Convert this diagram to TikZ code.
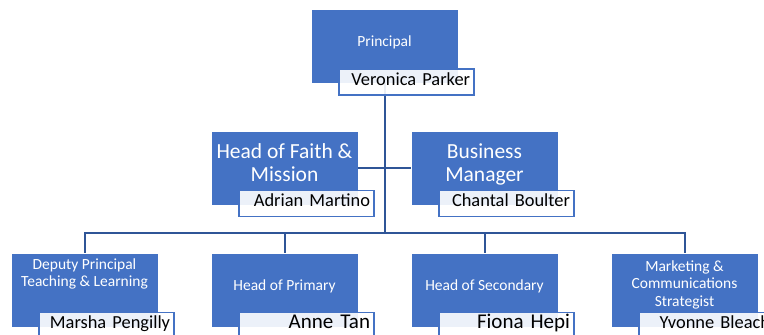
\documentclass[tikz,border=0pt]{standalone}
\usepackage{fontspec}
\setmainfont{Carlito}
\usetikzlibrary{positioning}
\usetikzlibrary{backgrounds}
\usepackage{xcolor}
\definecolor{boxblue}{HTML}{4472C4}
\definecolor{linkblue}{HTML}{2F5597}

\tikzset{
  post/.style={fill=boxblue, minimum width=146pt, minimum height=73pt, inner sep=0pt},
  holder/.style={draw=boxblue, line width=1.3pt, fill=white, fill opacity=0.9, text opacity=1,
    text width=127pt, inner xsep=4pt, inner ysep=0pt, minimum height=26pt, align=right,
    text height=0.64em, text depth=0pt, anchor=north east, font=\fontsize{18.4}{20}\selectfont},
  small/.style={text=white, align=center, anchor=base, font=\fontsize{15.5}{17.4}\selectfont},
  big/.style={text=white, align=center, anchor=base, font=\fontsize{21.5}{23.3}\selectfont},
  link/.style={draw=linkblue, line width=2pt},
}

\begin{document}
\begin{tikzpicture}[x=1pt, y=-1pt]
  \useasboundingbox (0,0) rectangle (764,335);

  \node[post] (principal) at (384.5,46.5) {};
  \node[post] (faith) at (284.5,168) {};
  \node[post] (business) at (484.5,168) {};
  \node[post] (deputy) at (84.5,290) {};
  \node[post] (primary) at (284.5,290) {};
  \node[post] (secondary) at (484.5,290) {};
  \node[post] (marketing) at (684.5,290) {};

  % titles sit on the baseline of their last line
  \node[small] (principal-t) at ([yshift=-36.7pt]principal.north) {Principal};
  \node[big] (faith-t) at ([yshift=-50pt]faith.north) {Head of Faith \&\\Mission};
  \node[big] (business-t) at ([yshift=-50pt]business.north) {Business\\Manager};
  \node[small] (deputy-t) at ([yshift=-33.4pt]deputy.north) {Deputy Principal\\Teaching \& Learning};
  \node[small] (primary-t) at ([yshift=-36.7pt]primary.north) {Head of Primary};
  \node[small] (secondary-t) at ([yshift=-36.7pt]secondary.north) {Head of Secondary};
  \node[small] (marketing-t) at ([yshift=-52.7pt]marketing.north) {Marketing \&\\Communications\\Strategist};

  \node[holder] (principal-n) at ([xshift=17pt,yshift=15pt]principal.south east) {Veronica Parker};
  \node[holder] (faith-n) at ([xshift=17pt,yshift=15pt]faith.south east) {Adrian Martino};
  \node[holder] (business-n) at ([xshift=17pt,yshift=15pt]business.south east) {Chantal Boulter};
  \node[holder] (deputy-n) at ([xshift=17pt,yshift=15pt]deputy.south east) {Marsha Pengilly};
  \node[holder, font=\fontsize{21}{23}\selectfont] (primary-n) at ([xshift=17pt,yshift=15pt]primary.south east) {Anne Tan};
  \node[holder, font=\fontsize{21}{23}\selectfont] (secondary-n) at ([xshift=17pt,yshift=15pt]secondary.south east) {Fiona Hepi};
  \node[holder] (marketing-n) at ([xshift=17pt,yshift=15pt]marketing.south east) {Yvonne Bleach};

  \begin{scope}[on background layer]
    \coordinate (hub) at (384.5,233);
    \draw[link] (principal) -- (hub);
    \draw[link] (faith) -- (business);
    \foreach \n in {deputy,primary,secondary,marketing}
      \draw[link] (hub) -| (\n);
  \end{scope}
\end{tikzpicture}
\end{document}
